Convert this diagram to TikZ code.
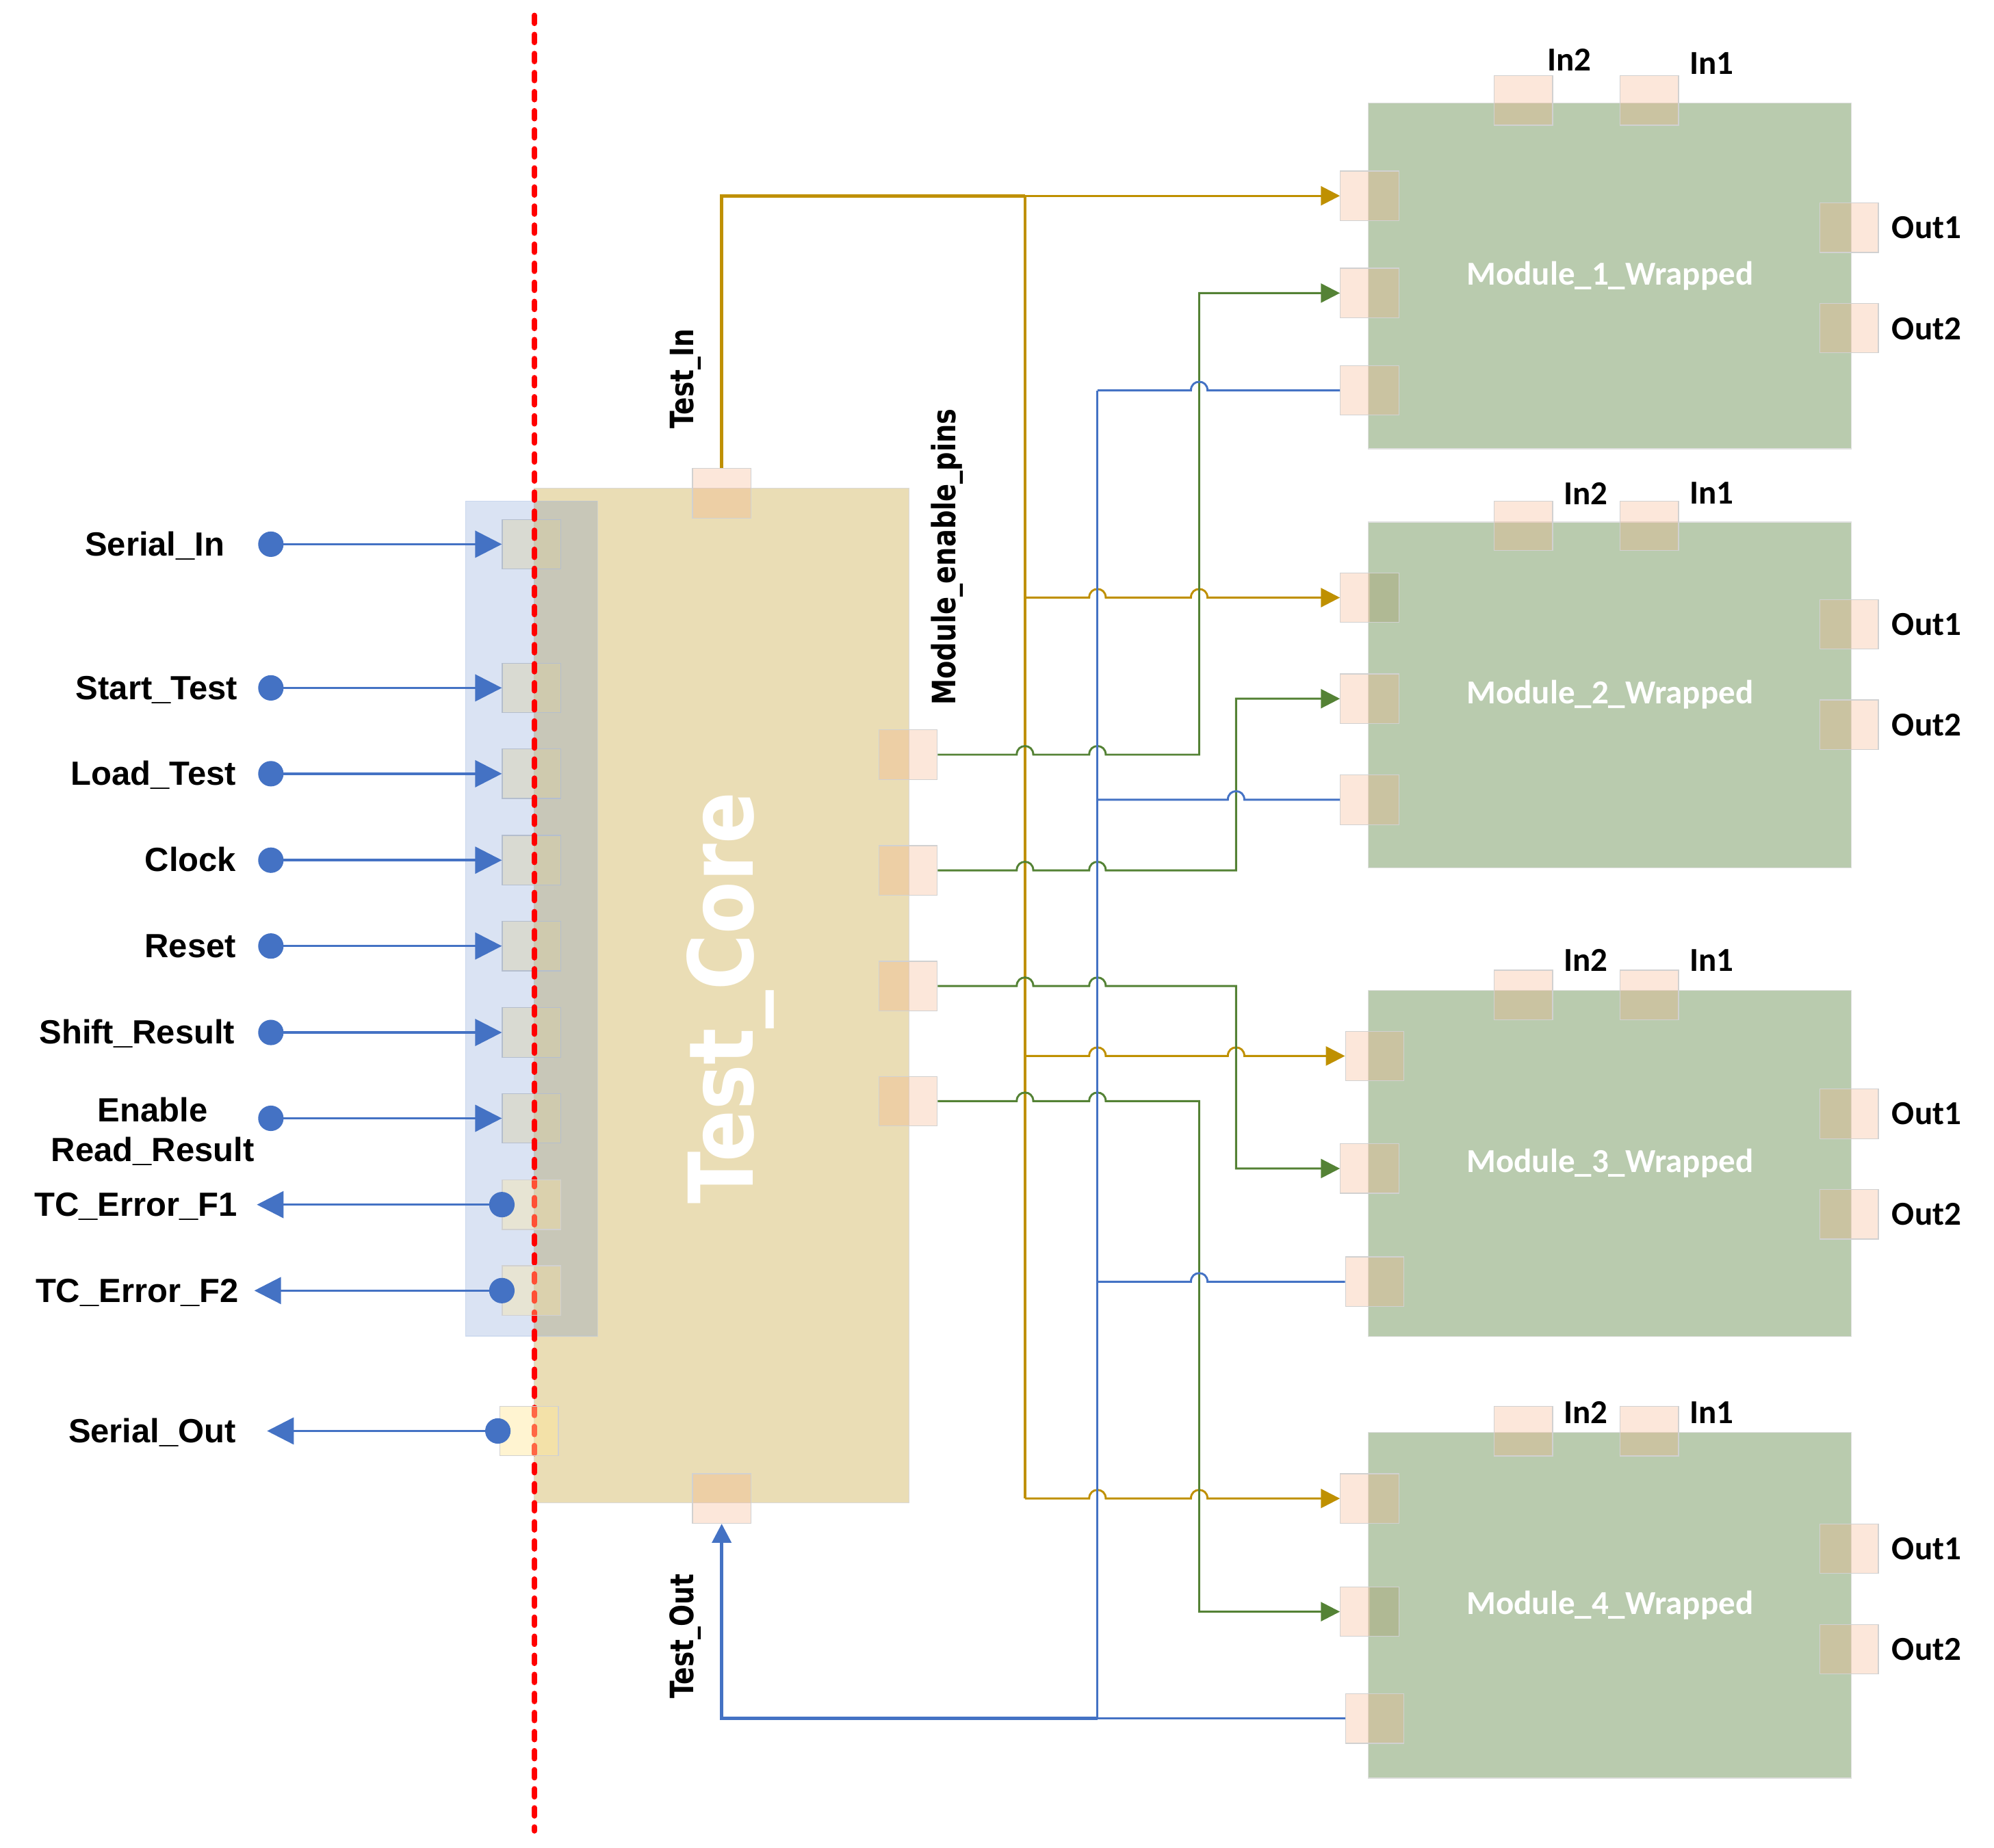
\documentclass[tikz,border=0pt]{standalone}
\usepackage{fontspec}
\setmainfont{Liberation Sans}
\newfontfamily\calfont{Carlito}
\newfontfamily\dvsfont{DejaVu Sans}
\usepackage{graphicx}
\usetikzlibrary{arrows.meta}
\definecolor{coretan}{RGB}{234,221,181}
\definecolor{modgreen}{RGB}{185,203,174}
\definecolor{bluec}{RGB}{68,114,196}
\definecolor{goldc}{RGB}{191,144,0}
\definecolor{greenc}{RGB}{84,130,53}
\definecolor{portorange}{RGB}{244,177,131}
\definecolor{portyellow}{RGB}{255,230,153}
\definecolor{ovlgreen}{RGB}{176,185,148}
\newcommand{\wjump}[2]{-- (#1-6.5,#2) .. controls (#1-6.5,#2-9) and (#1+6.5,#2-9) .. (#1+6.5,#2)}
\begin{document}
\begin{tikzpicture}[x=0.02cm,y=-0.02cm,
  core/.style={draw=black!15, line width=0.4pt, fill=coretan, minimum width=5.9cm, minimum height=15.96cm, inner sep=0},
  panel/.style={draw=bluec!40, line width=0.4pt, fill=bluec, fill opacity=0.2, draw opacity=0.4, minimum width=2.08cm, minimum height=13.14cm, inner sep=0},
  module/.style={draw=black!12, line width=0.4pt, fill=modgreen, minimum width=7.6cm, minimum height=5.44cm, inner sep=0, text=white, font=\calfont\bfseries\fontsize{15}{18}\selectfont},
  port/.style={draw=black!18, line width=0.4pt, fill=portorange, fill opacity=0.3, minimum width=0.92cm, minimum height=0.78cm, inner sep=0},
  yport/.style={port, fill=portyellow, fill opacity=0.4},
  darkport/.style={port, path picture={\fill[ovlgreen, fill opacity=1] (path picture bounding box.north) rectangle (path picture bounding box.south east);}},
  dot/.style={circle, fill=bluec, minimum size=0.4cm, inner sep=0},
  io/.style={bluec, line width=1.1pt, -{Triangle[length=0.42cm,width=0.42cm]}},
  lbl/.style={font=\bfseries\fontsize{15}{17.9}\selectfont, inner sep=0},
  plbl/.style={font=\calfont\bfseries\fontsize{15}{18}\selectfont, inner sep=0},
  rlbl/.style={rotate=90, font=\dvsfont\bfseries\fontsize{14.4}{17}\selectfont, inner sep=0},
  wire/.style={line width=0.9pt},
  tip/.style={-{Triangle[length=0.3cm,width=0.3cm]}},
  yw/.style={wire, goldc}, gw/.style={wire, greenc}, bw/.style={wire, bluec},
  redline/.style={red, line width=2.3pt, line cap=round, dash pattern=on 0.13cm off 0.17cm}
]
\useasboundingbox (0,0) rectangle (1568,1453);

% Test core
\node[core] (core) at (567.5,783) {};
% input ports (under panel)
\node[yport] (p1) at (418,428) {};
\node[yport] (p2) at (418,541) {};
\node[yport] (p3) at (418,608.5) {};
\node[yport] (p4) at (418,676.5) {};
\node[yport] (p5) at (418,744) {};
\node[yport] (p6) at (418,812) {};
\node[yport] (p7) at (418,879.5) {};
% blue panel
\node[panel] (panel) at (418,722.5) {};
% core title
\node[rotate=90, anchor=base, inner sep=0, text=white, font=\dvsfont\bfseries\fontsize{40}{48}\selectfont] (coretitle) at (592,785) {\scalebox{0.855}[1]{Test\_Core}};
% red boundary
\coordinate (rtop) at (420.3,12);
\coordinate (rbot) at (420.3,1440);
\draw[redline] (rtop) -- (rbot);
% output ports
\node[yport, fill opacity=0.35] (p8) at (418,947.4) {};
\node[yport, fill opacity=0.35] (p9) at (418,1015) {};
\node[yport, fill opacity=0.45] (p10) at (416,1125.4) {};
% core ports
\node[port] (tin) at (567.5,388) {};
\node[port] (tout) at (567.5,1178.5) {};
\node[port] (en1) at (714,593.5) {};
\node[port] (en2) at (714,684.5) {};
\node[port] (en3) at (714,775.5) {};
\node[port] (en4) at (714,866) {};

% modules
\node[module] (m1) at (1266,217) {Module\_1\_Wrapped};
\node[module] (m2) at (1266,546.5) {Module\_2\_Wrapped};
\node[module] (m3) at (1266,915) {Module\_3\_Wrapped};
\node[module] (m4) at (1266,1262.5) {Module\_4\_Wrapped};

% module 1 ports
\node[port] (m1i2) at (1198,79) {};
\node[port] (m1i1) at (1297,79) {};
\node[port] (m1a) at (1077,154) {};
\node[port] (m1b) at (1077,230.5) {};
\node[port] (m1c) at (1077,307) {};
\node[port] (m1o1) at (1454,179) {};
\node[port] (m1o2) at (1454,258) {};
% module 2 ports
\node[port] (m2i2) at (1198,413.5) {};
\node[port] (m2i1) at (1297,413.5) {};
\node[darkport] (m2a) at (1077,470) {};
\node[port] (m2b) at (1077,549.5) {};
\node[port] (m2c) at (1077,629) {};
\node[port] (m2o1) at (1454,491) {};
\node[port] (m2o2) at (1454,570) {};
% module 3 ports
\node[port] (m3i2) at (1198,782.5) {};
\node[port] (m3i1) at (1297,782.5) {};
\node[port] (m3a) at (1081,830.5) {};
\node[port] (m3b) at (1077,919) {};
\node[port] (m3c) at (1081,1008) {};
\node[port] (m3o1) at (1454,876) {};
\node[port] (m3o2) at (1454,955) {};
% module 4 ports
\node[port] (m4i2) at (1198,1125.5) {};
\node[port] (m4i1) at (1297,1125.5) {};
\node[port] (m4a) at (1077,1178.5) {};
\node[darkport] (m4b) at (1077,1267.5) {};
\node[port] (m4c) at (1081,1351.5) {};
\node[port] (m4o1) at (1454,1218) {};
\node[port] (m4o2) at (1454,1297) {};

% port labels
\node[plbl] (l1i2) at (1234,47) {In2};
\node[plbl] (l1i1) at (1346,50) {In1};
\node[plbl] (l1o1) at (1515,179) {Out1};
\node[plbl] (l1o2) at (1515,258.5) {Out2};
\node[plbl] (l2i2) at (1247,388) {In2};
\node[plbl] (l2i1) at (1346,388) {In1};
\node[plbl] (l2o1) at (1515,491) {Out1};
\node[plbl] (l2o2) at (1515,570) {Out2};
\node[plbl] (l3i2) at (1247,755) {In2};
\node[plbl] (l3i1) at (1346,755) {In1};
\node[plbl] (l3o1) at (1515,876) {Out1};
\node[plbl] (l3o2) at (1515,955) {Out2};
\node[plbl] (l4i2) at (1247,1111) {In2};
\node[plbl] (l4i1) at (1346,1111) {In1};
\node[plbl] (l4o1) at (1515,1218) {Out1};
\node[plbl] (l4o2) at (1515,1297) {Out2};

% rotated labels
\node[rlbl] (tinl) at (539,298) {\scalebox{0.8}[1]{Test\_In}};
\node[rlbl] (enl) at (745,438) {\scalebox{0.815}[1]{Module\_enable\_pins}};
\node[rlbl] (toutl) at (539,1287) {\scalebox{0.8}[1]{Test\_Out}};

% ---- wires ----
\coordinate (ytop) at (806,154);
\coordinate (bmid) at (863,307);
% yellow (Test_In)
\draw[yw, line width=1.5pt] (tin.north) |- (ytop);
\draw[yw, tip] (ytop) -- (m1a.west);
\draw[yw, line width=1.2pt] (ytop) -- (ytop |- m4a.west);
\draw[yw, tip] (ytop |- m2a.west) \wjump{863}{470} \wjump{943}{470} -- (m2a.west);
\draw[yw, tip] (ytop |- m3a.west) \wjump{863}{830.5} \wjump{972}{830.5} -- (m3a.west);
\draw[yw, tip] (ytop |- m4a.west) \wjump{863}{1178.5} \wjump{943}{1178.5} -- (m4a.west);
% green (module enables)
\draw[gw, tip] (en1.east) \wjump{806}{593.5} \wjump{863}{593.5} -| (943,230.5) -- (m1b.west);
\draw[gw, tip] (en2.east) \wjump{806}{684.5} \wjump{863}{684.5} -| (972,549.5) -- (m2b.west);
\draw[gw, tip] (en3.east) \wjump{806}{775.5} \wjump{863}{775.5} -| (972,919) -- (m3b.west);
\draw[gw, tip] (en4.east) \wjump{806}{866} \wjump{863}{866} -| (943,1267.5) -- (m4b.west);
% blue (Test_Out)
\draw[bw] (bmid) \wjump{943}{307} -- (m1c.west);
\draw[bw] (bmid) -- (bmid |- m4c.west);
\draw[bw] (bmid |- m2c.west) \wjump{972}{629} -- (m2c.west);
\draw[bw] (bmid |- m3c.west) \wjump{943}{1008} -- (m3c.west);
\draw[bw] (bmid |- m4c.west) -- (m4c.west);
\draw[bw, line width=1.4pt, tip] (bmid |- m4c.west) -| (tout.south);

% ---- left I/O ----
\node[dot] (d1) at (213,428) {};
\node[dot] (d2) at (213,541) {};
\node[dot] (d3) at (213,608.5) {};
\node[dot] (d4) at (213,676.5) {};
\node[dot] (d5) at (213,744) {};
\node[dot] (d6) at (213,812) {};
\node[dot] (d7) at (213,879.5) {};
\draw[io] (d1.center) -- (p1.west);
\draw[io] (d2.center) -- (p2.west);
\draw[io] (d3.center) -- (p3.west);
\draw[io] (d4.center) -- (p4.west);
\draw[io] (d5.center) -- (p5.west);
\draw[io] (d6.center) -- (p6.west);
\draw[io] (d7.center) -- (p7.west);
\coordinate (o8) at (202,947.4);
\coordinate (o9) at (200,1015);
\coordinate (o10) at (210,1125.4);
\draw[io] (p8.west) -- (o8);
\draw[io] (p9.west) -- (o9);
\draw[io] (416,1125.4) ++(-24.5,0) coordinate (s10) (s10) -- (o10);
\node[dot] (d8) at (p8.west) {};
\node[dot] (d9) at (p9.west) {};
\node[dot] (d10) at (s10) {};

% left labels
\node[lbl, anchor=base east] (tSI) at (177,437) {Serial\_In};
\node[lbl, anchor=base east] (tST) at (187,550) {Start\_Test};
\node[lbl, anchor=base east] (tLT) at (186,617.5) {Load\_Test};
\node[lbl, anchor=base east] (tCK) at (186,685.5) {Clock};
\node[lbl, anchor=base east] (tRS) at (186,753) {Reset};
\node[lbl, anchor=base east] (tSR) at (185,821) {Shift\_Result};
\node[lbl, align=center] (tER) at (120,890) {Enable\\Read\_Result};
\node[lbl, anchor=base east] (tE1) at (187,956.4) {TC\_Error\_F1};
\node[lbl, anchor=base east] (tE2) at (188,1024) {TC\_Error\_F2};
\node[lbl, anchor=base east] (tSO) at (186,1134.4) {Serial\_Out};
\end{tikzpicture}
\end{document}
